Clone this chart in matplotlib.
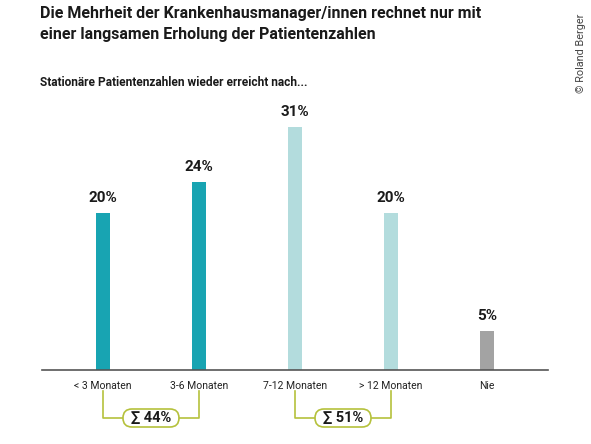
import matplotlib
matplotlib.use("Agg")
import matplotlib.pyplot as plt
from matplotlib.patches import FancyBboxPatch
from matplotlib.transforms import IdentityTransform

categories = ["< 3 Monaten", "3-6 Monaten", "7-12 Monaten", "> 12 Monaten", "Nie"]
values = [20, 24, 31, 20, 5]
value_labels = ["20%", "24%", "31%", "20%", "5%"]
colors = ["#18a4b2", "#18a4b2", "#b3dcdd", "#b3dcdd", "#a3a3a3"]
group_labels = ["\u2211 44%", "\u2211 51%"]
groups = [(0, 1), (2, 3)]

plt.rcParams["font.family"] = ["Roboto", "DejaVu Sans"]

W, H = 591, 444
fig = plt.figure(figsize=(W / 100, H / 100), dpi=100)

ax_left, ax_right = 42, 548
ax_bottom, ax_top = 370, 100
ax = fig.add_axes([ax_left / W, (H - ax_bottom) / H, (ax_right - ax_left) / W, (ax_bottom - ax_top) / H])
ax_h_px = ax_bottom - ax_top

x = list(range(len(categories)))
ax.bar(x, values, width=0.145, color=colors, zorder=2)
ax.set_xlim(-0.635, 4.635)
ax.set_ylim(0, ax_h_px / 7.85)

for xi, v, lab in zip(x, values, value_labels):
    ax.text(xi, v + 1.0, lab, ha="center", va="bottom", fontsize=11, fontweight="bold", color="#1a1a1a")

for s in ["top", "right", "left"]:
    ax.spines[s].set_visible(False)
ax.spines["bottom"].set_color("#555555")
ax.spines["bottom"].set_linewidth(1.2)
ax.set_yticks([])
ax.set_xticks(x)
ax.set_xticklabels(categories, fontsize=7.5, color="#222222")
ax.tick_params(axis="x", length=0, pad=8)

def yfrac(py):
    return (ax_bottom - py) / ax_h_px

tr = ax.get_xaxis_transform()
olive = "#b5c13c"
for (a, b), glab in zip(groups, group_labels):
    y0, y1 = yfrac(391), yfrac(418)
    mid = (a + b) / 2
    ax.plot([a, a, b, b], [y0, y1, y1, y0], transform=tr, color=olive, lw=1.2, clip_on=False, zorder=1)
    cx, cy = tr.transform((mid, y1))
    bw, bh = 56, 18
    box = FancyBboxPatch((cx - bw / 2, cy - bh / 2), bw, bh,
                         boxstyle="round,pad=0,rounding_size=9", fc="white", ec=olive, lw=1.2,
                         transform=IdentityTransform(), clip_on=False, zorder=3)
    fig.patches.append(box)
    fig.text(cx / W, cy / H, glab, ha="center", va="center", fontsize=10.5, fontweight="bold",
             color="#1a1a1a", zorder=5)

fig.text(40 / W, 1 - 6 / H, "Die Mehrheit der Krankenhausmanager/innen rechnet nur mit\neiner langsamen Erholung der Patientenzahlen",
         ha="left", va="top", fontsize=11.5, fontweight="bold", color="#1a1a1a", linespacing=1.5)
fig.text(40 / W, 1 - 82 / H, "Stationäre Patientenzahlen wieder erreicht nach...",
         ha="left", va="center", fontsize=8.6, fontweight="bold", color="#1a1a1a")
fig.text(581 / W, 1 - 53 / H, "\u00a9 Roland Berger", rotation=90, ha="center", va="center",
         fontsize=7.8, color="#444444")

fig.savefig("out.png", dpi=100)
